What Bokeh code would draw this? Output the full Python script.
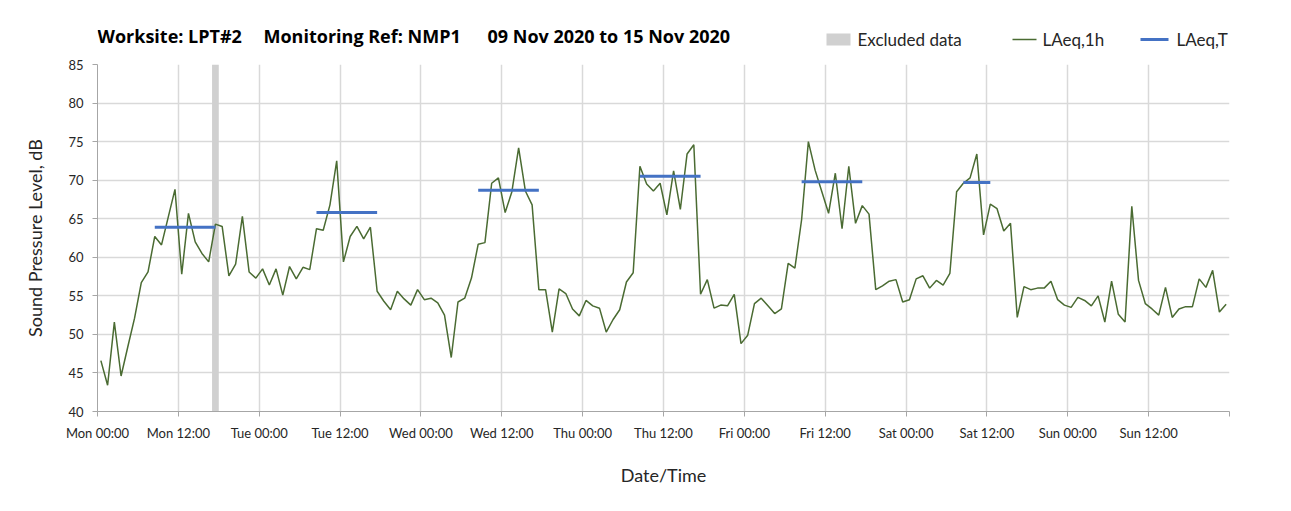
from bokeh.plotting import figure
from bokeh.layouts import column
from bokeh.models import Range1d, FixedTicker, ColumnDataSource
from bokeh.embed import file_html
from bokeh.resources import INLINE
from bokeh.core.properties import value

# ---------------- data ----------------
laeq_1h = [
    46.6, 43.4, 51.6, 44.6, 48.4, 52.1, 56.7, 58.1, 62.7, 61.6, 65.2, 68.8,
    57.8, 65.7, 62.0, 60.5, 59.4, 64.3, 64.0, 57.6, 59.1, 65.3, 58.1, 57.3,
    58.5, 56.4, 58.5, 55.1, 58.8, 57.2, 58.7, 58.4, 63.7, 63.5, 66.8, 72.5,
    59.4, 62.7, 64.0, 62.4, 63.9, 55.6, 54.3, 53.2, 55.6, 54.6, 53.8, 55.8,
    54.5, 54.7, 54.1, 52.5, 47.0, 54.2, 54.7, 57.3, 61.7, 61.9, 69.6, 70.3,
    65.8, 68.5, 74.2, 68.6, 66.8, 55.8, 55.8, 50.3, 55.9, 55.3, 53.3, 52.4,
    54.4, 53.7, 53.4, 50.3, 51.9, 53.2, 56.8, 58.0, 71.8, 69.5, 68.6, 69.6,
    65.5, 71.2, 66.2, 73.4, 74.6, 55.2, 57.1, 53.4, 53.8, 53.7, 55.2, 48.8,
    49.9, 54.0, 54.7, 53.7, 52.7, 53.3, 59.2, 58.6, 64.9, 75.0, 71.3, 68.5,
    65.7, 70.9, 63.7, 71.8, 64.4, 66.7, 65.6, 55.8, 56.3, 56.9, 57.1, 54.2,
    54.5, 57.2, 57.6, 56.0, 57.0, 56.4, 57.9, 68.5, 69.6, 70.3, 73.4, 62.9,
    66.9, 66.3, 63.4, 64.4, 52.2, 56.2, 55.8, 56.0, 56.0, 56.9, 54.5, 53.8,
    53.5, 54.8, 54.4, 53.7, 55.0, 51.6, 56.9, 52.6, 51.6, 66.6, 57.0, 54.0,
    53.3, 52.5, 56.1, 52.2, 53.3, 53.6, 53.6, 57.2, 56.1, 58.3, 52.9, 53.9,
]
hours = list(range(len(laeq_1h)))

laeq_t_day = [0, 1, 2, 3, 4, 5]
laeq_t_value = [63.9, 65.8, 68.7, 70.5, 69.8, 69.7]
laeq_t_first_hour = [8, 8, 8, 8, 8, 8]
laeq_t_last_hour = [17, 17, 17, 17, 17, 12]

excluded_hours = [17]

tick_hours = [0, 12, 24, 36, 48, 60, 72, 84, 96, 108, 120, 132, 144, 156, 168]
tick_labels = ["Mon 00:00", "Mon 12:00", "Tue 00:00", "Tue 12:00", "Wed 00:00",
               "Wed 12:00", "Thu 00:00", "Thu 12:00", "Fri 00:00", "Fri 12:00",
               "Sat 00:00", "Sat 12:00", "Sun 00:00", "Sun 12:00", ""]

title_parts = ["Worksite: LPT#2", "Monitoring Ref: NMP1", "09 Nov 2020 to 15 Nov 2020"]
legend_labels = ["Excluded data", "LAeq,1h", "LAeq,T"]

# ---------------- style ----------------
FONT = "Lato"
GRID = "#d9d9d9"
TXT = "#262626"
C_EX = "#d0d0d0"
C_1H = "#4a6b32"
C_T = "#4472c4"
W = 1275
HEAD_H = 56
BL, BR = 97, 46          # frame borders shared by both figures
FX0, FX1 = BL, W - BR    # frame pixel span

# ---------------- header (title + legend) ----------------
hdr = figure(width=W, height=HEAD_H, output_backend="svg", toolbar_location=None,
             x_range=Range1d(FX0, FX1), y_range=Range1d(HEAD_H, 0),
             x_axis_type=None, y_axis_type=None,
             min_border_left=BL, min_border_right=BR,
             min_border_top=0, min_border_bottom=0)
hdr.outline_line_color = None
hdr.grid.visible = False

hdr.text(x=[97, 263, 487], y=[35, 35, 35], text=title_parts,
         text_font=value("Open Sans"), text_font_style="bold", text_font_size="18px",
         text_color="black", text_baseline="middle", text_align="left")

# legend swatches
hdr.quad(left=[826], right=[850], top=[33], bottom=[45], fill_color=C_EX, line_color=None)
hdr.segment(x0=[1012], y0=[39], x1=[1036], y1=[39], line_color=C_1H, line_width=1.5)
hdr.segment(x0=[1140], y0=[39], x1=[1168], y1=[39], line_color=C_T, line_width=3)
hdr.text(x=[857, 1042, 1176], y=[39, 39, 39], text=legend_labels,
         text_font=value(FONT), text_font_size="17px", text_color=TXT,
         text_baseline="middle", text_align="left")

# ---------------- main chart ----------------
p = figure(width=W, height=495 - HEAD_H, output_backend="svg", toolbar_location=None,
           x_range=Range1d(0, 168), y_range=Range1d(40, 85),
           min_border_left=BL, min_border_right=BR, min_border_top=8,
           min_border_bottom=84)
p.outline_line_color = None

p.xaxis.ticker = FixedTicker(ticks=tick_hours)
p.xaxis.major_label_overrides = {h: lab for h, lab in zip(tick_hours, tick_labels)}
p.yaxis.ticker = FixedTicker(ticks=list(range(40, 86, 5)))
for ax in (p.xaxis, p.yaxis):
    ax.major_label_text_font = FONT
    ax.major_label_text_font_size = "13px"
    ax.major_label_text_color = TXT
    ax.axis_line_color = "#a6a6a6"
    ax.axis_line_width = 1
    ax.major_tick_line_color = "#a6a6a6"
    ax.major_tick_out = 5
    ax.major_tick_in = 0
    ax.minor_tick_line_color = None
    ax.axis_label_text_font = FONT
    ax.axis_label_text_font_style = "normal"
    ax.axis_label_text_font_size = "18px"
    ax.axis_label_text_color = TXT
p.xaxis.axis_label = "Date/Time"
p.yaxis.axis_label = "Sound Pressure Level, dB"
p.xaxis.major_label_standoff = 8
p.yaxis.major_label_standoff = 9
p.xaxis.axis_label_standoff = 20
p.yaxis.axis_label_standoff = 19

p.xgrid.ticker = FixedTicker(ticks=tick_hours)
p.ygrid.ticker = FixedTicker(ticks=list(range(40, 86, 5)))
for g in (p.xgrid, p.ygrid):
    g.grid_line_color = GRID
    g.grid_line_width = 1.5

ex_src = ColumnDataSource(dict(left=[h for h in excluded_hours],
                               right=[h + 1 for h in excluded_hours],
                               bottom=[40] * len(excluded_hours),
                               top=[85] * len(excluded_hours)))
p.quad(left="left", right="right", bottom="bottom", top="top",
       source=ex_src, fill_color=C_EX, line_color=None)

src = ColumnDataSource(dict(x=[h + 0.5 for h in hours], y=laeq_1h))
p.line("x", "y", source=src, line_color=C_1H, line_width=1.5)

seg_src = ColumnDataSource(dict(
    x0=[d * 24 + s + 0.5 for d, s in zip(laeq_t_day, laeq_t_first_hour)],
    x1=[d * 24 + e + 0.5 for d, e in zip(laeq_t_day, laeq_t_last_hour)],
    y=laeq_t_value))
p.segment(x0="x0", y0="y", x1="x1", y1="y", source=seg_src,
          line_color=C_T, line_width=3)

layout = column(hdr, p, spacing=0)
open("out.html", "w").write(file_html(layout, INLINE))
